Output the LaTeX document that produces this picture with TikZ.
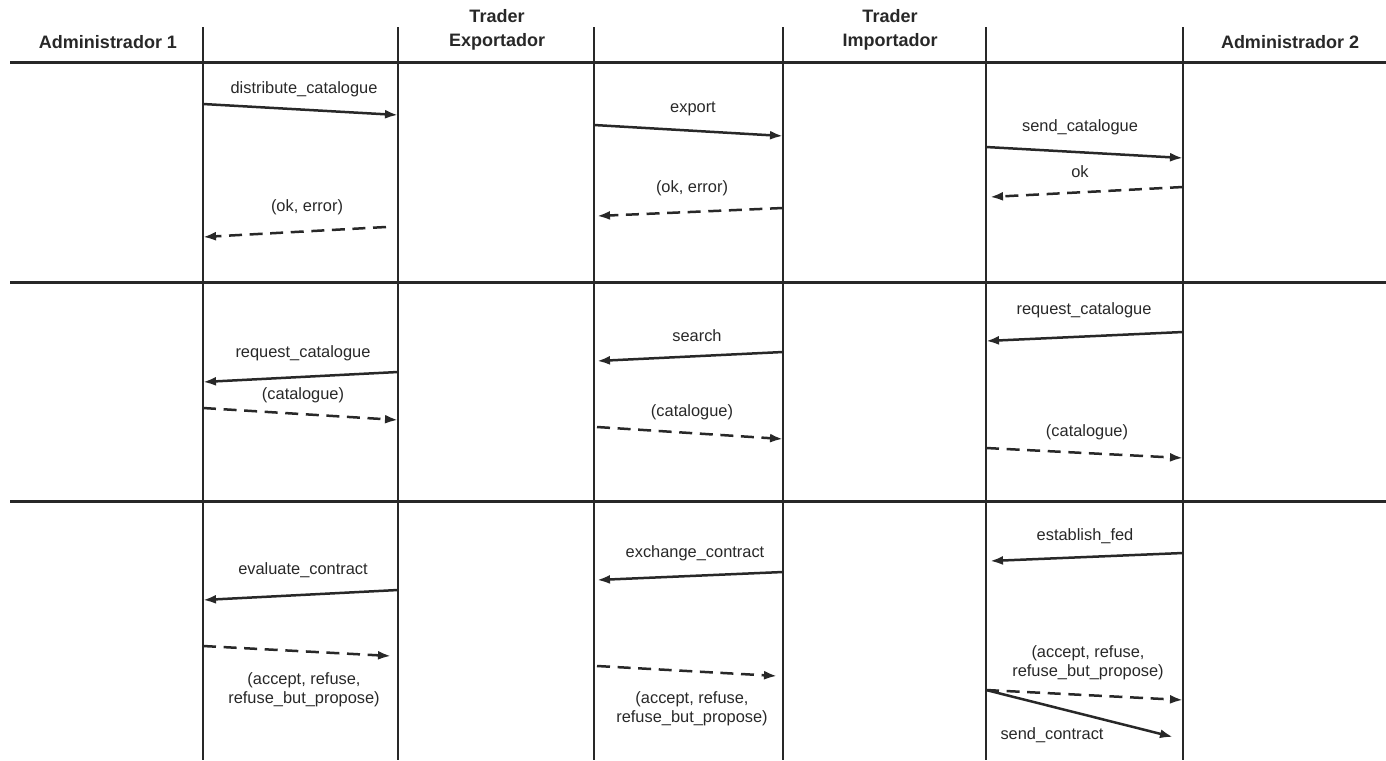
\documentclass[tikz,border=0pt]{standalone}
\usepackage{fontspec}
\setmainfont{Liberation Sans}
\usetikzlibrary{arrows.meta}
\definecolor{ink}{RGB}{40,40,40}

\begin{document}
\begin{tikzpicture}[x=0.5pt,y=-0.5pt,
  every node/.style={text=ink,inner sep=0pt},
  hdr/.style={font=\bfseries\fontsize{9}{12}\selectfont,align=center},
  lbl/.style={font=\fontsize{8.2}{9.6}\selectfont,align=center},
  life/.style={draw=ink,line width=1.4pt},
  rule/.style={draw=ink,line width=1.5pt},
  msg/.style={draw=ink,line width=1.25pt,-{Latex[length=6.5pt,width=4.5pt]}},
  reply/.style={msg,dash pattern=on 6.5pt off 3.8pt}]
  \useasboundingbox (0,0) rectangle (1386,760);
  % lifelines and rows
  \foreach \n/\x in {l1/203,l2/398,l3/594,l4/783,l5/986,l6/1183}{
    \coordinate (\n t) at (\x,27);
    \coordinate (\n b) at (\x,760);
    \draw[life] (\n t) -- (\n b);
  }
  \foreach \n/\y in {r1/62,r2/282,r3/501}{
    \coordinate (\n a) at (10,\y);
    \coordinate (\n b) at (1386,\y);
    \draw[rule] (\n a) -- (\n b);
  }
  % headers
  \node[hdr] (adm1) at (108,42) {Administrador 1};
  \node[hdr] (exp) at (497,30) {Trader\\Exportador};
  \node[hdr] (imp) at (890,30) {Trader\\Importador};
  \node[hdr] (adm2) at (1290,42) {Administrador 2};

  % row 1
  \coordinate (m1a) at (203,104); \coordinate (m1b) at (398,115);
  \draw[msg] (m1a) -- (m1b);
  \node[lbl] (t1) at (304,89) {distribute\_catalogue};
  \coordinate (m2a) at (386,227); \coordinate (m2b) at (203,237);
  \draw[reply] (m2a) -- (m2b);
  \node[lbl] (t2) at (307,207) {(ok, error)};
  \coordinate (m3a) at (594,125); \coordinate (m3b) at (783,136);
  \draw[msg] (m3a) -- (m3b);
  \node[lbl] (t3) at (693,109) {export};
  \coordinate (m4a) at (783,208); \coordinate (m4b) at (597,216);
  \draw[reply] (m4a) -- (m4b);
  \node[lbl] (t4) at (692,188) {(ok, error)};
  \coordinate (m5a) at (986,147); \coordinate (m5b) at (1183,158);
  \draw[msg] (m5a) -- (m5b);
  \node[lbl] (t5) at (1080,127) {send\_catalogue};
  \coordinate (m6a) at (1183,187); \coordinate (m6b) at (990,197);
  \draw[reply] (m6a) -- (m6b);
  \node[lbl] (t6) at (1080,172) {ok};

  % row 2
  \coordinate (m7a) at (398,372); \coordinate (m7b) at (203,382);
  \draw[msg] (m7a) -- (m7b);
  \node[lbl] (t7) at (303,353) {request\_catalogue};
  \coordinate (m8a) at (203,408); \coordinate (m8b) at (398,420);
  \draw[reply] (m8a) -- (m8b);
  \node[lbl] (t8) at (303,395) {(catalogue)};
  \coordinate (m9a) at (783,352); \coordinate (m9b) at (597,361);
  \draw[msg] (m9a) -- (m9b);
  \node[lbl] (t9) at (697,336) {search};
  \coordinate (m10a) at (597,427); \coordinate (m10b) at (783,439);
  \draw[reply] (m10a) -- (m10b);
  \node[lbl] (t10) at (692,412) {(catalogue)};
  \coordinate (m11a) at (1183,332); \coordinate (m11b) at (986,341);
  \draw[msg] (m11a) -- (m11b);
  \node[lbl] (t11) at (1084,310) {request\_catalogue};
  \coordinate (m12a) at (986,448); \coordinate (m12b) at (1183,458);
  \draw[reply] (m12a) -- (m12b);
  \node[lbl] (t12) at (1087,432) {(catalogue)};

  % row 3
  \coordinate (m13a) at (398,590); \coordinate (m13b) at (203,600);
  \draw[msg] (m13a) -- (m13b);
  \node[lbl] (t13) at (303,570) {evaluate\_contract};
  \coordinate (m14a) at (203,646); \coordinate (m14b) at (391,656);
  \draw[reply] (m14a) -- (m14b);
  \node[lbl] (t14) at (304,690) {(accept, refuse,\\refuse\_but\_propose)};
  \coordinate (m15a) at (783,572); \coordinate (m15b) at (597,580);
  \draw[msg] (m15a) -- (m15b);
  \node[lbl] (t15) at (695,553) {exchange\_contract};
  \coordinate (m16a) at (597,666); \coordinate (m16b) at (777,676);
  \draw[reply] (m16a) -- (m16b);
  \node[lbl] (t16) at (692,709) {(accept, refuse,\\refuse\_but\_propose)};
  \coordinate (m17a) at (1183,553); \coordinate (m17b) at (990,561);
  \draw[msg] (m17a) -- (m17b);
  \node[lbl] (t17) at (1085,536) {establish\_fed};
  \coordinate (m18a) at (986,690); \coordinate (m18b) at (1183,700);
  \draw[reply] (m18a) -- (m18b);
  \node[lbl] (t18) at (1088,663) {(accept, refuse,\\refuse\_but\_propose)};
  \coordinate (m19a) at (986,690); \coordinate (m19b) at (1173,737);
  \draw[msg] (m19a) -- (m19b);
  \node[lbl] (t19) at (1052,735) {send\_contract};
\end{tikzpicture}
\end{document}
